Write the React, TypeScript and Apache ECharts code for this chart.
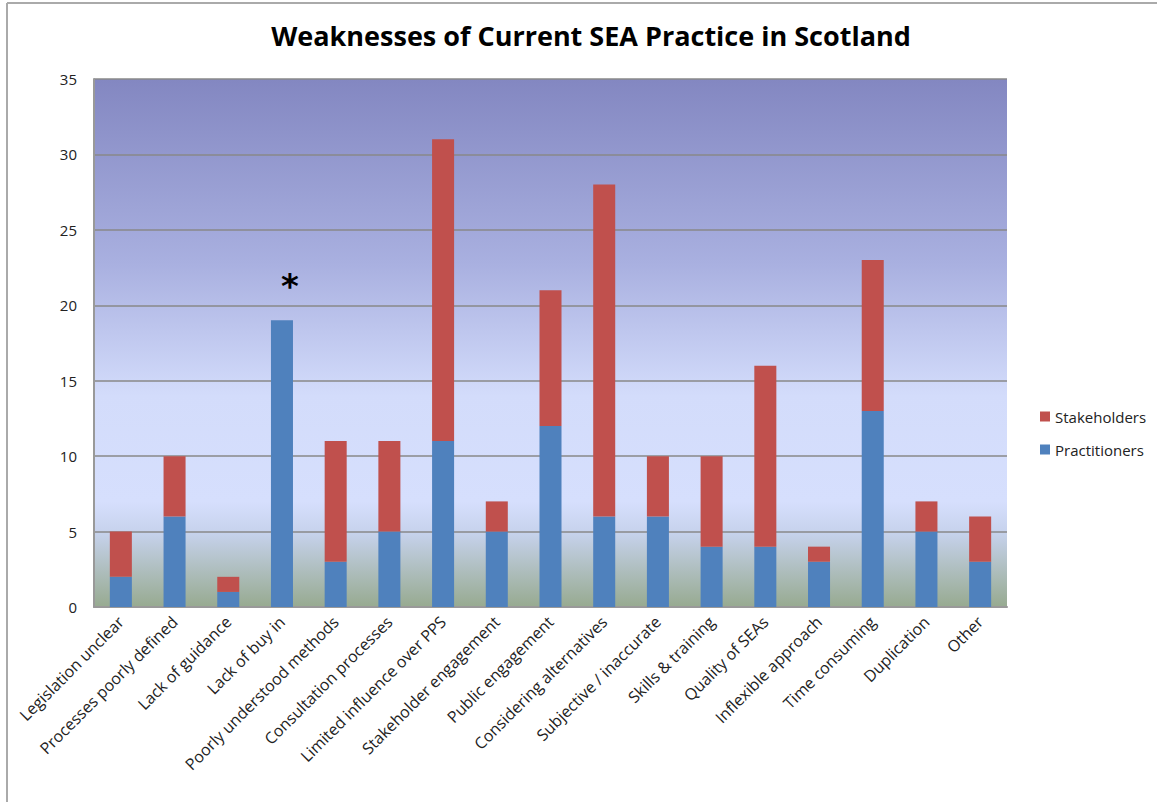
import React, { useEffect, useRef } from "react";
import * as echarts from "echarts";

const categories = [
  "Legislation unclear",
  "Processes poorly defined",
  "Lack of guidance",
  "Lack of buy in",
  "Poorly understood methods",
  "Consultation processes",
  "Limited influence over PPS",
  "Stakeholder engagement",
  "Public engagement",
  "Considering alternatives",
  "Subjective / inaccurate",
  "Skills & training",
  "Quality of SEAs",
  "Inflexible approach",
  "Time consuming",
  "Duplication",
  "Other",
];
const practitioners = [2, 6, 1, 19, 3, 5, 11, 5, 12, 6, 6, 4, 4, 3, 13, 5, 3];
const stakeholders = [3, 4, 1, 0, 8, 6, 20, 2, 9, 22, 4, 6, 12, 1, 10, 2, 3];
const yTicks = { min: 0, max: 35, interval: 5 };

const FONT = "'Open Sans', 'DejaVu Sans', sans-serif";

export default function App() {
  const ref = useRef<HTMLDivElement>(null);
  useEffect(() => {
    if (!ref.current) return;
    const chart = echarts.init(ref.current, null, { renderer: "svg" });
    chart.setOption({
      animation: false,
      backgroundColor: "#ffffff",
      title: {
        text: "Weaknesses of Current SEA Practice in Scotland",
        left: 586,
        textAlign: "center",
        top: 17,
        textStyle: { fontFamily: FONT, fontSize: 27, fontWeight: "bold", color: "#000" },
      },
      graphic: [
        {
          type: "line",
          shape: { x1: 7, y1: 3, x2: 1157, y2: 3 },
          style: { stroke: "#aaaaaa", lineWidth: 2 },
        },
        {
          type: "line",
          shape: { x1: 7, y1: 3, x2: 7, y2: 802 },
          style: { stroke: "#aaaaaa", lineWidth: 2 },
        },
      ],
      legend: {
        orient: "vertical",
        left: 1035,
        top: 404,
        itemWidth: 10,
        itemHeight: 10,
        itemGap: 18,
        icon: "rect",
        data: ["Stakeholders", "Practitioners"],
        textStyle: { fontFamily: FONT, fontSize: 15, color: "#222" },
      },
      grid: {
        left: 94,
        right: 150,
        top: 79,
        bottom: 195,
        show: true,
        borderWidth: 0,
        backgroundColor: new echarts.graphic.LinearGradient(0, 0, 0, 1, [
          { offset: 0, color: "#8387c1" },
          { offset: 0.35, color: "#a9b0e0" },
          { offset: 0.6, color: "#d3dcfb" },
          { offset: 0.8, color: "#d6dffd" },
          { offset: 0.86, color: "#c6d2ec" },
          { offset: 1, color: "#97aa90" },
        ]),
      },
      xAxis: {
        type: "category",
        data: categories,
        axisLine: { show: true, lineStyle: { color: "#999", width: 2 } },
        axisTick: { show: false },
        axisLabel: {
          rotate: 45,
          interval: 0,
          fontFamily: FONT,
          fontSize: 16,
          color: "#222",
          margin: 12,
        },
      },
      yAxis: {
        type: "value",
        min: yTicks.min,
        max: yTicks.max,
        interval: yTicks.interval,
        axisLine: { show: true, lineStyle: { color: "#999", width: 2 } },
        axisTick: { show: false },
        axisLabel: { fontFamily: FONT, fontSize: 15, color: "#222", margin: 17 },
        splitLine: { show: true, lineStyle: { color: "#888", width: 1.5 } },
      },
      series: [
        {
          name: "Practitioners",
          type: "bar",
          stack: "total",
          data: practitioners,
          barWidth: "41%",
          itemStyle: { color: "#4f81bd" },
          markPoint: {
            symbol: "circle",
            symbolSize: 0,
            data: [{ coord: ["Lack of buy in", 21.3] }],
            label: {
              show: true,
              formatter: "*",
              offset: [8, 0],
              color: "#000",
              fontSize: 34,
              fontWeight: "bold",
              fontFamily: "'DejaVu Sans', sans-serif",
            },
          },
        },
        {
          name: "Stakeholders",
          type: "bar",
          stack: "total",
          data: stakeholders,
          barWidth: "41%",
          itemStyle: { color: "#c0504d" },
        },
      ],
    });
    return () => chart.dispose();
  }, []);
  return (
    <div
      ref={ref}
      style={{ position: "fixed", left: 0, top: 0, width: 1157, height: 802 }}
    />
  );
}
